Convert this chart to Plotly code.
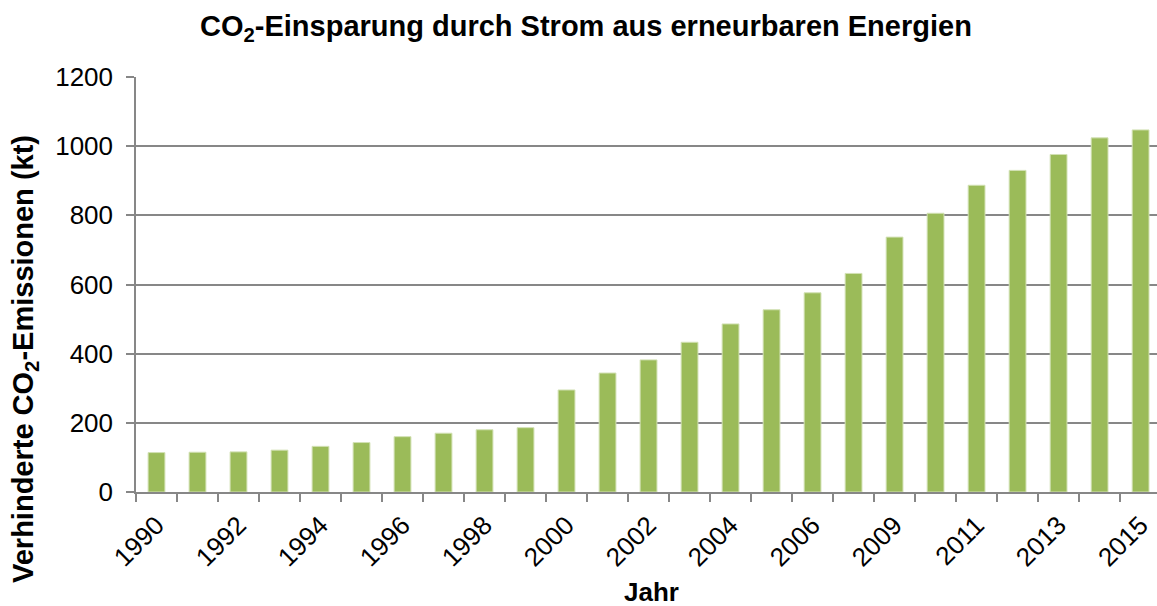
import plotly.graph_objects as go

years = ["1990", "1991", "1992", "1993", "1994", "1995", "1996", "1997", "1998", "1999",
         "2000", "2001", "2002", "2003", "2004", "2005", "2006", "2008", "2009", "2010",
         "2011", "2012", "2013", "2014", "2015"]
values = [114, 115, 116, 121, 132, 143, 160, 170, 180, 186,
          295, 344, 382, 433, 486, 527, 576, 632, 737, 806,
          887, 930, 976, 1024, 1047]
shown_labels = ["1990", "1992", "1994", "1996", "1998", "2000", "2002", "2004", "2006",
                "2009", "2011", "2013", "2015"]
y_ticks = [0, 200, 400, 600, 800, 1000, 1200]

FONT = "Liberation Sans, Arial, sans-serif"
GRID = "#878787"

ticktext = [y if y in shown_labels else "" for y in years]

fig = go.Figure()
fig.add_trace(go.Bar(
    x=years, y=values,
    marker=dict(color="#9BBB59", line=dict(color="#D2E1B4", width=1)),
    width=0.41,
))

fig.update_layout(
    width=1157, height=606,
    margin=dict(l=136, r=0, t=77, b=114),
    paper_bgcolor="white", plot_bgcolor="white",
    font=dict(family=FONT, color="black", size=26),
    showlegend=False,
    bargap=0.59,
)
fig.update_xaxes(
    type="category",
    range=[-0.5, 24.4],
    tickvals=years, ticktext=ticktext,
    tickangle=-45,
    tickson="boundaries",
    ticks="outside", ticklen=8, tickwidth=1.5, tickcolor=GRID,
    ticklabelstandoff=6,
    showline=True, linecolor=GRID, linewidth=1.5,
    showgrid=False,
    tickfont=dict(size=26, family=FONT, color="black"),
)
fig.update_yaxes(
    range=[0, 1200],
    tickvals=y_ticks,
    ticks="outside", ticklen=8, tickwidth=1.5, tickcolor=GRID,
    ticklabelstandoff=8,
    showline=True, linecolor=GRID, linewidth=1.5,
    showgrid=True, gridcolor=GRID, gridwidth=1.5,
    zeroline=False,
    tickfont=dict(size=26, family=FONT, color="black"),
)

fig.add_annotation(
    text="<b>CO<sub>2</sub>-Einsparung durch Strom aus erneurbaren Energien</b>",
    xref="paper", yref="paper", x=(586 - 136) / 1021, y=(492 - 28) / 415,
    xanchor="center", yanchor="middle", showarrow=False,
    font=dict(size=29, family=FONT, color="black"),
)
fig.add_annotation(
    text="<b>Verhinderte CO<sub>2</sub>-Emissionen (kt)</b>",
    xref="paper", yref="paper", x=(25 - 136) / 1021, y=(492 - 359) / 415,
    xanchor="center", yanchor="middle", textangle=-90, showarrow=False,
    font=dict(size=29, family=FONT, color="black"),
)
fig.add_annotation(
    text="<b>Jahr</b>",
    xref="paper", yref="paper", x=(651 - 136) / 1021, y=(492 - 592) / 415,
    xanchor="center", yanchor="middle", showarrow=False,
    font=dict(size=26, family=FONT, color="black"),
)

fig.write_html("out.html", config={"displayModeBar": False},
               post_script="document.body.style.margin='0';document.body.style.overflow='hidden';")
